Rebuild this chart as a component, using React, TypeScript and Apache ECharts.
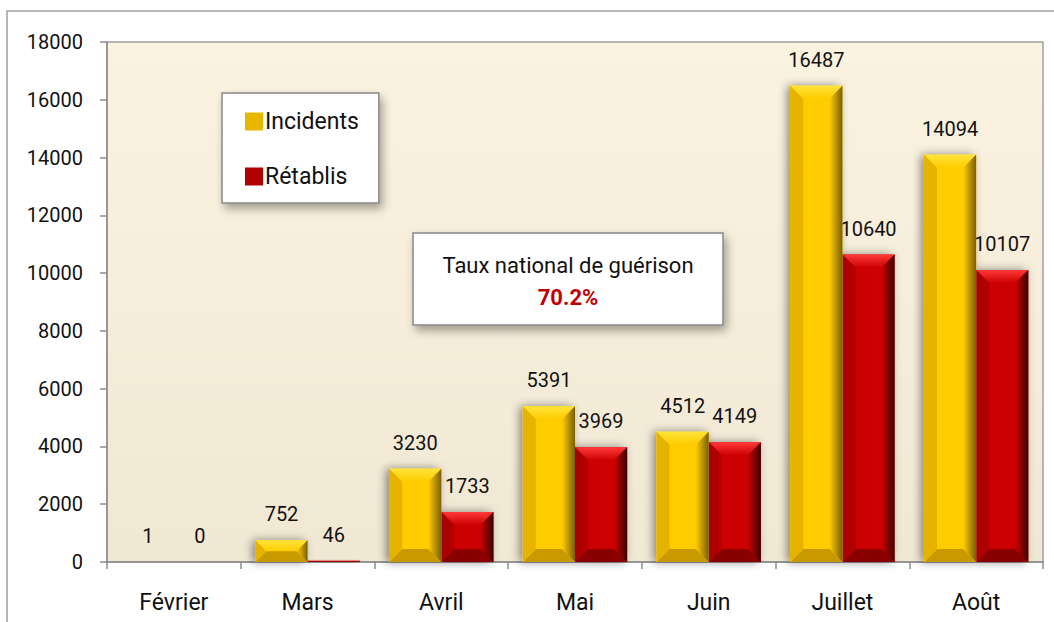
import React, { useEffect, useRef } from "react";
import * as echarts from "echarts";

const months = ["Février", "Mars", "Avril", "Mai", "Juin", "Juillet", "Août"];
const incidents = [1, 752, 3230, 5391, 4512, 16487, 14094];
const retablis = [0, 46, 1733, 3969, 4149, 10640, 10107];
const seriesNames = ["Incidents", "Rétablis"];
const boxTitle = "Taux national de guérison";
const boxValue = "70.2%";

const FAMILY = "Roboto, sans-serif";

const palettes = [
  { main: "#FFCC00", light: "#FFE43A", dark: "#7A5E00", bottom: "#C99A00", left: "#E6B400" },
  { main: "#CC0000", light: "#FF3A3A", dark: "#3A0000", bottom: "#8A0000", left: "#B00000" },
];

function makeRender(side: number) {
  const p = palettes[side];
  return (params: any, api: any) => {
    const cat = api.value(0);
    const val = api.value(1);
    const base = api.coord([cat, 0]);
    const top = api.coord([cat, val]);
    const band = api.size([1, 0])[0];
    const w = band * 0.39;
    const x = side === 0 ? base[0] - w : base[0];
    const h = base[1] - top[1];
    const y = top[1];
    const children: any[] = [];
    if (h > 0.4) {
      const b = Math.min(13, w / 4, h / 2);
      children.push({
        type: "rect",
        shape: { x, y, width: w, height: h },
        style: {
          fill: p.main,
          shadowBlur: 10,
          shadowOffsetX: -3,
          shadowOffsetY: 0,
          shadowColor: "rgba(0,0,0,0.45)",
        },
      });
      children.push({
        type: "polygon",
        shape: { points: [[x, y], [x + w, y], [x + w - b, y + b], [x + b, y + b]] },
        style: {
          fill: new echarts.graphic.LinearGradient(0, 0, 0, 1, [
            { offset: 0, color: p.light },
            { offset: 1, color: p.main },
          ]),
        },
      });
      children.push({
        type: "polygon",
        shape: { points: [[x, y + h], [x + w, y + h], [x + w - b, y + h - b], [x + b, y + h - b]] },
        style: { fill: p.bottom },
      });
      children.push({
        type: "polygon",
        shape: { points: [[x, y], [x + b, y + b], [x + b, y + h - b], [x, y + h]] },
        style: { fill: p.left },
      });
      children.push({
        type: "polygon",
        shape: { points: [[x + w, y], [x + w, y + h], [x + w - b, y + h - b], [x + w - b, y + b]] },
        style: {
          fill: new echarts.graphic.LinearGradient(0, 0, 1, 0, [
            { offset: 0, color: p.main },
            { offset: 1, color: p.dark },
          ]),
        },
      });
    }
    children.push({
      type: "text",
      x: x + w / 2,
      y: y - 26,
      style: {
        text: String(val),
        fill: "#111",
        fontSize: 20,
        fontFamily: FAMILY,
        align: "center",
        verticalAlign: "middle",
      },
    });
    return { type: "group", children };
  };
}

export default function App() {
  const ref = useRef<HTMLDivElement>(null);
  useEffect(() => {
    if (!ref.current) return;
    const chart = echarts.init(ref.current, null, { renderer: "svg" });
    const option: any = {
      animation: false,
      backgroundColor: "#ffffff",
      textStyle: { fontFamily: FAMILY },
      grid: {
        left: 107,
        top: 42,
        right: 11,
        bottom: 60,
        show: true,
        borderColor: "#a0a0a0",
        borderWidth: 1.5,
        backgroundColor: new echarts.graphic.LinearGradient(0, 0, 0, 1, [
          { offset: 0, color: "#FBF3E0" },
          { offset: 1, color: "#F1E8D4" },
        ]),
      },
      legend: {
        left: 222,
        top: 93,
        orient: "vertical",
        icon: "rect",
        itemWidth: 18,
        itemHeight: 18,
        itemGap: 32,
        padding: [17, 20, 15, 23],
        backgroundColor: "#ffffff",
        borderColor: "#888",
        borderWidth: 1.5,
        shadowBlur: 10,
        shadowOffsetX: 3,
        shadowOffsetY: 5,
        shadowColor: "rgba(0,0,0,0.35)",
        textStyle: {
          fontFamily: FAMILY,
          fontSize: 23,
          color: "#111",
          padding: [0, 0, 0, -3],
        },
        data: seriesNames,
      },
      xAxis: {
        type: "category",
        data: months,
        axisLine: { lineStyle: { color: "#8c8c8c", width: 1.5 } },
        axisTick: { show: true, length: 7, lineStyle: { color: "#8c8c8c", width: 1.5 } },
        axisLabel: { fontFamily: FAMILY, fontSize: 23, color: "#111", margin: 29 },
      },
      yAxis: {
        type: "value",
        min: 0,
        max: 18000,
        interval: 2000,
        splitLine: { show: false },
        axisLine: { show: true, lineStyle: { color: "#8c8c8c", width: 1.5 } },
        axisTick: { show: true, length: 7, lineStyle: { color: "#8c8c8c", width: 1.5 } },
        axisLabel: {
          fontFamily: FAMILY,
          fontSize: 20,
          color: "#111",
          margin: 24,
          formatter: (v: number) => String(v),
        },
      },
      series: [
        {
          name: seriesNames[0],
          type: "custom",
          color: "#E8B800",
          itemStyle: { color: "#E8B800" },
          encode: { x: 0, y: 1 },
          data: incidents.map((v, i) => [i, v]),
          renderItem: makeRender(0),
          z: 3,
        },
        {
          name: seriesNames[1],
          type: "custom",
          color: "#B00000",
          itemStyle: { color: "#B00000" },
          encode: { x: 0, y: 1 },
          data: retablis.map((v, i) => [i, v]),
          renderItem: makeRender(1),
          z: 2,
        },
      ],
      graphic: [
        {
          type: "rect",
          z: -10,
          silent: true,
          shape: { x: 7, y: 11, width: 1060, height: 630 },
          style: { fill: "none", stroke: "#a0a0a0", lineWidth: 1.5 },
        },
        {
          type: "group",
          z: 100,
          children: [
            {
              type: "rect",
              shape: { x: 413, y: 233, width: 310, height: 92 },
              style: {
                fill: "#ffffff",
                stroke: "#888",
                lineWidth: 1.5,
                shadowBlur: 10,
                shadowOffsetX: 3,
                shadowOffsetY: 5,
                shadowColor: "rgba(0,0,0,0.35)",
              },
            },
            {
              type: "text",
              x: 568,
              y: 265,
              style: {
                text: boxTitle,
                fontSize: 22,
                fontFamily: FAMILY,
                fill: "#111",
                align: "center",
                verticalAlign: "middle",
              },
            },
            {
              type: "text",
              x: 568,
              y: 297,
              style: {
                text: boxValue,
                fontSize: 22,
                fontWeight: "bold",
                fontFamily: FAMILY,
                fill: "#C00000",
                align: "center",
                verticalAlign: "middle",
              },
            },
          ],
        },
      ],
    };
    chart.setOption(option);
    return () => chart.dispose();
  }, []);
  return (
    <div
      ref={ref}
      style={{ position: "absolute", left: 0, top: 0, width: 1054, height: 622 }}
    />
  );
}
